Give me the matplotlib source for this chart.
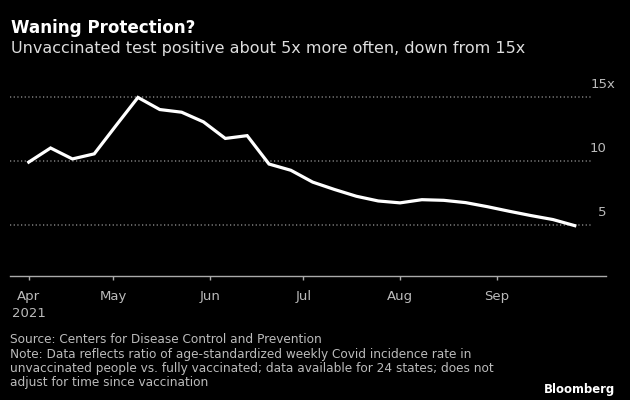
import numpy as np
import pandas as pd
import matplotlib
matplotlib.use("Agg")
import matplotlib.pyplot as plt
import matplotlib.dates as mdates
import matplotlib.transforms as mtransforms

# weekly ratio, unvaccinated vs fully vaccinated
weeks = pd.date_range("2021-04-04", "2021-09-26", freq="7D")
ratio = [9.92, 11.03, 10.17, 10.57, 12.8, 15.0, 14.05, 13.84, 13.08, 11.78,
         12.0, 9.77, 9.28, 8.35, 7.77, 7.24, 6.87, 6.72, 6.97, 6.92,
         6.74, 6.42, 6.06, 5.72, 5.41, 4.93]

tick_dates = [weeks[0], pd.Timestamp("2021-05-01"), pd.Timestamp("2021-06-01"),
              pd.Timestamp("2021-07-01"), pd.Timestamp("2021-08-01"),
              pd.Timestamp("2021-09-01")]
tick_labels = ["Apr\n2021", "May", "Jun", "Jul", "Aug", "Sep"]
grid_vals = [5, 10, 15]
grid_labels = ["5", "10", "15x"]

title = "Waning Protection?"
subtitle = "Unvaccinated test positive about 5x more often, down from 15x"
footer_lines = [
    "Source: Centers for Disease Control and Prevention",
    "Note: Data reflects ratio of age-standardized weekly Covid incidence rate in",
    "unvaccinated people vs. fully vaccinated; data available for 24 states; does not",
    "adjust for time since vaccination",
]

plt.rcParams["font.family"] = ["DejaVu Sans"]

W, H = 630, 400
fig = plt.figure(figsize=(W / 100, H / 100), dpi=100, facecolor="black")
ax = fig.add_axes([10 / W, 1 - 275.7 / H, 596 / W, 195.7 / H])
ax.set_facecolor("black")

for v in grid_vals:
    ax.axhline(v, xmin=0, xmax=0.975, color="#808080", lw=1.1,
               linestyle=(0, (0.8, 1.6)), zorder=1)

ax.plot(weeks, ratio, color="white", lw=2.3, solid_joinstyle="miter", zorder=3)

ax.set_xlim(mdates.date2num(pd.Timestamp("2021-03-29")),
            mdates.date2num(pd.Timestamp("2021-10-06")))
ax.set_ylim(1, 16.37)

ax.set_xticks(tick_dates)
ax.set_xticklabels(tick_labels, linespacing=1.45)
ax.tick_params(axis="x", colors="#aaaaaa", length=3, width=1, pad=7,
               labelsize=9.5, labelcolor="#bbbbbb")
ax.set_yticks([])
for s in ["top", "right", "left"]:
    ax.spines[s].set_visible(False)
ax.spines["bottom"].set_color("#aaaaaa")
ax.spines["bottom"].set_linewidth(1)

# value labels sit above the gridlines on the right, the "x" hangs past the numbers
trans = mtransforms.blended_transform_factory(ax.transAxes, ax.transData)
for v, lab in zip(grid_vals, grid_labels):
    ax.annotate(lab, xy=(1.0, v), xycoords=trans,
                xytext=(6.5 if lab.endswith("x") else 0.5, 9),
                textcoords="offset points", ha="right", va="center",
                color="#bbbbbb", fontsize=9.5)

fig.text(11 / W, 1 - 33.3 / H, title, color="white", fontsize=12.1,
         fontweight="bold", ha="left", va="baseline")
fig.text(11 / W, 1 - 53.3 / H, subtitle, color="#dddddd", fontsize=11.5,
         ha="left", va="baseline")
for i, line in enumerate(footer_lines):
    fig.text(10 / W, 1 - (343.3 + 14.25 * i) / H, line, color="#bbbbbb",
             fontsize=8.7, ha="left", va="baseline")
fig.text(615 / W, 1 - 392.5 / H, "Bloomberg", color="white", fontsize=8.4,
         fontweight="bold", ha="right", va="baseline")

fig.savefig("out.png", dpi=100, facecolor="black")
